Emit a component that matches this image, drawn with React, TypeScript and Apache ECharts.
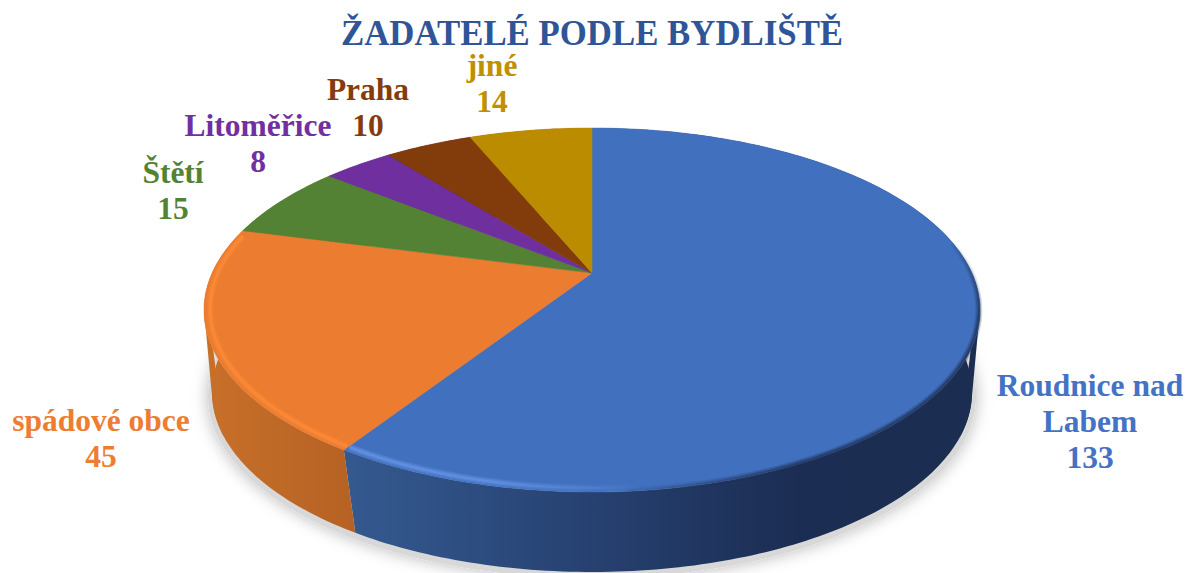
import React, { useEffect, useRef } from "react";
import * as echarts from "echarts";

const TITLE = "ŽADATELÉ PODLE BYDLIŠTĚ";
const categories = ["Roudnice nad\nLabem", "spádové obce", "Štětí", "Litoměřice", "Praha", "jiné"];
const values = [133, 45, 15, 8, 10, 14];

const topColors = ["#4170bf", "#eb7c30", "#548235", "#6f2f9f", "#823b0b", "#bb8c00"];
const labelColors = ["#4472c4", "#ed7d31", "#548235", "#7030a0", "#843c0c", "#bf9000"];
const labelCenters = [[1090, 421], [101, 438], [173, 190], [258, 143], [368, 107], [492, 83]];

const sideFills = [
  [[350, "#34598f"], [600, "#264070"], [800, "#1b2d52"], [980, "#1b2d50"]],
  [[205, "#c8702a"], [350, "#b66224"]],
  [[205, "#b8682a"], [260, "#b8682a"]],
  [[300, "#4a7030"], [400, "#4a7030"]],
  [[300, "#5a2a80"], [400, "#5a2a80"]],
  [[400, "#6e3009"], [600, "#a07600"]],
];

const TOP = { cx: 592, cy: 310, rx: 388, ry: 182, c: -0.203 };
const BOTTOM = { cx: 592, cy: 392, rx: 380, ry: 180, c: -0.17 };
const APEX_Y = 273;
const total = values.reduce((a, b) => a + b, 0);
const EXTREME = (Math.acos(TOP.c) * 180) / Math.PI;

function project(e: typeof TOP, deg: number, r = 1): number[] {
  const t = (deg * Math.PI) / 180;
  const u = r * Math.sin(t);
  const v = -r * Math.cos(t);
  const d = 1 + e.c * v;
  const x = (Math.sqrt(1 - e.c * e.c) * u) / d;
  const y = (v + e.c) / d;
  return [e.cx + e.rx * x, e.cy + e.ry * y];
}

function arc(e: typeof TOP, a: number, b: number, r = 1): number[][] {
  const n = Math.max(2, Math.ceil(Math.abs(b - a)));
  const pts: number[][] = [];
  for (let i = 0; i <= n; i++) pts.push(project(e, a + ((b - a) * i) / n, r));
  return pts;
}

function sliceAngles(i: number): [number, number] {
  let before = 0;
  for (let k = 0; k < i; k++) before += values[k];
  return [(before / total) * 360, ((before + values[i]) / total) * 360];
}

const seriesData = categories.map((name, i) => ({ name, value: values[i] }));

function grad(x0: number, x1: number, stops: { offset: number; color: string }[]) {
  return new echarts.graphic.LinearGradient(x0, 0, x1, 0, stops, true);
}

function gradY(y0: number, y1: number, stops: { offset: number; color: string }[]) {
  return new echarts.graphic.LinearGradient(0, y0, 0, y1, stops, true);
}

const layerAlpha = [0.16, 0.26, 0.45];
const layerWidth = [7, 4.5, 2];

function strokeStack(points: number[][], makeStroke: (k: number) => any) {
  return layerWidth.map((w, k) => ({
    type: "polyline",
    shape: { points },
    style: { stroke: makeStroke(k), lineWidth: w, fill: null, lineCap: "butt" },
    silent: true,
  }));
}

function rgba(rgb: string, a: number) {
  return `rgba(${rgb},${a})`;
}

export default function App() {
  const ref = useRef<HTMLDivElement>(null);
  useEffect(() => {
    document.body.style.margin = "0";
    const chart = echarts.init(ref.current!, undefined, { renderer: "svg" });
    const base = { type: "custom", coordinateSystem: "none", data: seriesData, silent: true, animation: false };
    chart.setOption({
      animation: false,
      backgroundColor: "#ffffff",
      title: {
        text: TITLE,
        left: 587,
        top: 11,
        textAlign: "center",
        textStyle: { color: "#2f5597", fontFamily: "Liberation Serif", fontWeight: "bold", fontSize: 34.8 },
      },
      graphic: [
        {
          type: "ellipse",
          z: 0,
          silent: true,
          shape: { cx: 592, cy: 396, rx: 384, ry: 182 },
          style: { fill: "#d8d8d8", shadowBlur: 16, shadowColor: "rgba(0,0,0,0.28)" },
        },
      ],
      series: [
        {
          ...base,
          name: "side",
          z: 2,
          renderItem: (params: any) => {
            const i = params.dataIndex;
            const [a, b] = sliceAngles(i);
            const stops = sideFills[i] as [number, string][];
            const x0 = stops[0][0];
            const x1 = stops[stops.length - 1][0];
            const fill = grad(x0, x1, stops.map(([x, color]) => ({ offset: (x - x0) / (x1 - x0), color })));
            const shapes: any[] = [
              { type: "polygon", shape: { points: [...arc(TOP, a, b), ...arc(BOTTOM, b, a)] }, style: { fill } },
            ];
            // fill the silhouette between the two rims where the side turns away
            [EXTREME, 360 - EXTREME].forEach((e) => {
              if (a < e && e < b) {
                const s = e < 180 ? e + 12 : e - 12;
                shapes.push({
                  type: "polygon",
                  shape: { points: [...arc(TOP, s, e), ...arc(BOTTOM, e, s)] },
                  style: { fill },
                });
              }
            });
            return { type: "group", children: shapes };
          },
        },
        {
          ...base,
          name: "top",
          z: 3,
          renderItem: (params: any) => {
            const i = params.dataIndex;
            const [a, b] = sliceAngles(i);
            const pts = [[TOP.cx, APEX_Y], ...arc(TOP, a, b)];
            return {
              type: "polygon",
              shape: { points: pts },
              style: { fill: topColors[i], stroke: topColors[i], lineWidth: 0.5 },
            };
          },
        },
        {
          ...base,
          name: "bevel",
          z: 4,
          renderItem: (params: any) => {
            const i = params.dataIndex;
            const [a, b] = sliceAngles(i);
            if (i === 0) {
              const light = strokeStack(arc(TOP, b - 0.2, 168, 0.985), (k) =>
                grad(348, 640, [
                  { offset: 0, color: rgba("104,150,232", layerAlpha[k] + 0.12) },
                  { offset: 0.45, color: rgba("104,150,232", layerAlpha[k] + 0.12) },
                  { offset: 1, color: rgba("104,150,232", 0) },
                ])
              );
              const darkSide = strokeStack(arc(TOP, 80, 125, 0.997), (k) =>
                gradY(235, 320, [
                  { offset: 0, color: rgba("27,45,82", 0) },
                  { offset: 1, color: rgba("27,45,82", layerAlpha[k] + 0.06) },
                ])
              );
              const darkFront = strokeStack(arc(TOP, 125, 176, 0.997), (k) =>
                grad(610, 800, [
                  { offset: 0, color: rgba("27,45,82", 0) },
                  { offset: 1, color: rgba("27,45,82", layerAlpha[k] + 0.06) },
                ])
              );
              return { type: "group", children: [...darkSide, ...darkFront, ...light] };
            }
            if (i === 1) {
              const light = strokeStack(arc(TOP, a + 0.2, 283, 0.985), (k) =>
                rgba("255,140,56", layerAlpha[k] + 0.12)
              );
              return { type: "group", children: light };
            }
            return { type: "group", children: [] };
          },
        },
        {
          ...base,
          name: "labels",
          z: 5,
          renderItem: (params: any, api: any) => {
            const i = params.dataIndex;
            const [x, y] = labelCenters[i];
            return {
              type: "text",
              style: {
                text: `${categories[i]}\n${api.value(0)}`,
                x,
                y,
                align: "center",
                verticalAlign: "middle",
                fill: labelColors[i],
                font: 'bold 31.5px "Liberation Serif"',
                lineHeight: 36,
              },
            };
          },
        },
      ],
    });
    return () => chart.dispose();
  }, []);
  return <div ref={ref} style={{ width: 1188, height: 573 }} />;
}
